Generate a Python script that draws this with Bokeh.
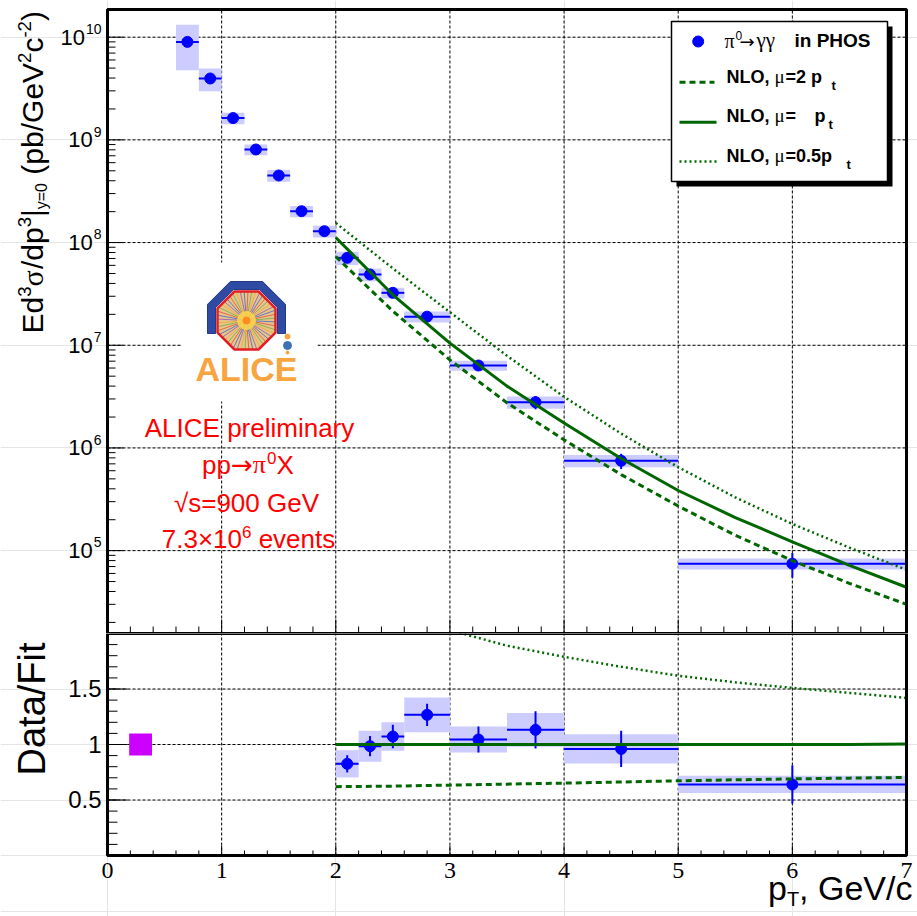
import math
from bokeh.plotting import figure
from bokeh.layouts import column
from bokeh.models import Range1d, Label
from bokeh.embed import file_html
from bokeh.resources import INLINE

# ---------------- measured pi0 spectrum ----------------
pt       = [0.7, 0.9, 1.1, 1.3, 1.5, 1.7, 1.9, 2.1, 2.3, 2.5, 2.8, 3.25, 3.75, 4.5, 6.0]
pt_lo    = [0.6, 0.8, 1.0, 1.2, 1.4, 1.6, 1.8, 2.0, 2.2, 2.4, 2.6, 3.0, 3.5, 4.0, 5.0]
pt_hi    = [0.8, 1.0, 1.2, 1.4, 1.6, 1.8, 2.0, 2.2, 2.4, 2.6, 3.0, 3.5, 4.0, 5.0, 7.0]
xsec     = [9.0e9, 3.96e9, 1.63e9, 8.06e8, 4.5e8, 2.02e8, 1.29e8, 7.1e7, 4.89e7,
            3.24e7, 1.9e7, 6.35e6, 2.79e6, 7.5e5, 7.46e4]
stat_rel = [0.02, 0.02, 0.02, 0.02, 0.02, 0.03, 0.03, 0.094, 0.093, 0.098, 0.079,
            0.113, 0.148, 0.17, 0.27]
syst_rel = [0.47, 0.25, 0.13, 0.12, 0.13, 0.125, 0.13, 0.149, 0.142, 0.12, 0.124,
            0.113, 0.135, 0.137, 0.121]

# ---------------- data / fit ratio ----------------
ratio_pt   = [2.1, 2.3, 2.5, 2.8, 3.25, 3.75, 4.5, 6.0]
ratio_lo   = [2.0, 2.2, 2.4, 2.6, 3.0, 3.5, 4.0, 5.0]
ratio_hi   = [2.2, 2.4, 2.6, 3.0, 3.5, 4.0, 5.0, 7.0]
ratio_val  = [0.826, 0.985, 1.072, 1.267, 1.045, 1.132, 0.96, 0.64]
ratio_stat = [0.094, 0.093, 0.098, 0.079, 0.113, 0.148, 0.17, 0.27]
ratio_syst = [0.149, 0.142, 0.12, 0.124, 0.113, 0.135, 0.137, 0.121]
norm_x     = [0.19, 0.39]
norm_y     = [0.9, 1.1]

# ---------------- NLO pQCD curves ----------------
nlo_pt   = [2.0, 2.5, 3.0, 3.5, 4.0, 4.5, 5.0, 5.5, 6.0, 6.5, 7.0]
nlo_mu1  = [1.12e8, 3.1e7, 1.05e7, 4.0e6, 1.75e6, 7.9e5, 3.85e5, 2.1e5, 1.22e5, 7.2e4, 4.4e4]
nlo_mu2  = [7.3e7, 2.15e7, 7.2e6, 2.75e6, 1.2e6, 5.5e5, 2.72e5, 1.41e5, 8.0e4, 4.8e4, 3.0e4]
nlo_mu05 = [1.55e8, 5.6e7, 2.1e7, 7.9e6, 3.15e6, 1.38e6, 6.5e5, 3.3e5, 1.82e5, 1.07e5, 6.5e4]

rat_mu1  = [1.0, 1.0, 1.0, 1.0, 1.0, 1.0, 1.0, 1.0, 1.0, 1.0, 1.005]
rat_mu2  = [0.62, 0.625, 0.634, 0.643, 0.652, 0.662, 0.673, 0.682, 0.69, 0.697, 0.703]
rat05_pt = [3.0, 3.5, 4.0, 4.5, 5.0, 5.5, 6.0, 6.5, 7.0]
rat_mu05 = [2.03, 1.89, 1.79, 1.70, 1.62, 1.56, 1.51, 1.465, 1.42]

# ---------------- axes ----------------
x_ticks  = [0, 1, 2, 3, 4, 5, 6, 7]
x_labels = ["0", "1", "2", "3", "4", "5", "6", "7"]
x_grid   = [1, 2, 3, 4, 5, 6]
x_minor  = [round(0.2 * i, 1) for i in range(36) if i % 5]
y_exp    = [5, 6, 7, 8, 9, 10]
y_exp_labels = ["5", "6", "7", "8", "9", "10"]
r_ticks  = [0.5, 1.0, 1.5]
r_labels = ["0.5", "1", "1.5"]
r_minor  = [round(0.1 * i, 1) for i in range(1, 20)]

# ---------------- page geometry ----------------
W, H = 917, 916
FL, FR = 107, 906          # plot area left / right (px)
TOP_T, TOP_B = 9, 633      # upper plot area top / bottom (px)
BOT_T, BOT_B = 633, 855    # lower plot area top / bottom (px)
X0, X1 = 0.0, 7.0
YT_LO, YT_HI = 1.56e4, 1.86e10
YB_LO, YB_HI = 0.0, 2.0
BASE_FIX = 0.37            # alphabetic-baseline correction, in em

SANS = "Liberation Sans"
SERIF = "Liberation Serif"
DEJA = "DejaVu Sans"
BLUE = "#0000ff"
BOX = "#ccccff"
GREEN = "#006600"
RED = "#ff0000"


def tx(px):
    return X0 + (px - FL) / (FR - FL) * (X1 - X0)


def ty(py):
    a, b = math.log10(YT_HI), math.log10(YT_LO)
    return 10 ** (a - (py - TOP_T) / (TOP_B - TOP_T) * (a - b))


def by(py):
    return YB_HI - (py - BOT_T) / (BOT_B - BOT_T) * (YB_HI - YB_LO)


def py_top(v):
    a, b = math.log10(YT_HI), math.log10(YT_LO)
    return TOP_T + (a - math.log10(v)) / (a - b) * (TOP_B - TOP_T)


def py_bot(v):
    return BOT_T + (YB_HI - v) / (YB_HI - YB_LO) * (BOT_B - BOT_T)


# approximate advance widths (em) for placing text pieces side by side
W_REG = {' ': .278, '(': .333, ')': .333, '/': .278, '.': .278, ',': .278, '=': .584,
         '-': .333, '|': .26, '√': .549, '×': .584, 'E': .667, 'G': .778, 'V': .667,
         'X': .667, 'A': .667, 'L': .556, 'I': .278, 'C': .722, 'T': .611, 'F': .611,
         'D': .722, 'a': .556, 'b': .556, 'c': .5, 'd': .556, 'e': .556, 'i': .222,
         'l': .222, 'm': .833, 'n': .556, 'p': .556, 'r': .333, 's': .5, 't': .278,
         'v': .5, 'y': .5}
W_SER = {'π': .55, 'γ': .45, 'μ': .55, 'σ': .58}
W_DEJA = {'→': .838}


def text_w(s, size, font):
    tot = 0.0
    for ch in s:
        if font == SERIF:
            tot += W_SER.get(ch, .5)
        elif font == DEJA:
            tot += W_DEJA.get(ch, .6)
        else:
            tot += W_REG.get(ch, .556 if ch.isdigit() else .55)
    return tot * size


def put(fig, cx, cy, px, py, text, size, font=SANS, bold=False, color="black",
        vertical=False, align="left"):
    """Text whose baseline passes through page pixel (px, py)."""
    if vertical:
        px -= BASE_FIX * size
    else:
        py -= BASE_FIX * size
    fig.add_layout(Label(x=cx(px), y=cy(py), text=text,
                         angle=math.pi / 2 if vertical else 0,
                         text_font=font, text_font_size=f"{size}px",
                         text_font_style="bold" if bold else "normal",
                         text_color=color, text_align=align,
                         text_baseline="alphabetic"))


def run(fig, cx, cy, start, base, pieces, vertical=False, align="left"):
    """Place a run of pieces (text, size, shift, font, color) one after another."""
    widths = [text_w(t, s, f) for (t, s, sh, f, c) in pieces]
    total = sum(widths)
    sgn = -1 if vertical else 1
    if align == "center":
        start -= sgn * total / 2
    elif align == "right":
        start -= sgn * total
    pos = start
    for (t, s, sh, f, c), w in zip(pieces, widths):
        lead = text_w(t[:len(t) - len(t.lstrip(' '))], s, f)
        p0 = pos + sgn * lead
        if vertical:
            put(fig, cx, cy, base + sh, p0, t.strip(), s, f, False, c, vertical=True)
        else:
            put(fig, cx, cy, p0, base + sh, t.strip(), s, f, False, c)
        pos += sgn * w


def panel(height, y_type, y_range):
    return figure(width=W, height=height, y_axis_type=y_type,
                  x_range=Range1d(tx(0), tx(W)), y_range=Range1d(*y_range),
                  min_border=0, x_axis_location=None, y_axis_location=None, title=None,
                  outline_line_color=None, toolbar_location=None, output_backend="svg")


# ======================= upper panel: spectrum =======================
top = panel(TOP_B, "log", (ty(TOP_B), ty(0)))

decades = [10.0 ** e for e in y_exp]
top.segment(x0=[X0] * len(decades), x1=[X1] * len(decades), y0=decades, y1=decades,
            line_color="black", line_width=1, line_dash="3 2")
top.segment(x0=x_grid, x1=x_grid, y0=[YT_LO] * len(x_grid), y1=[YT_HI] * len(x_grid),
            line_color="black", line_width=1, line_dash="3 2")

# white patch behind the experiment logo
top.quad(left=tx(181), right=tx(317), top=ty(262), bottom=ty(401),
         fill_color="white", line_color=None)

# systematic boxes, bin-width bars, statistical bars, markers
top.quad(left=pt_lo, right=pt_hi,
         top=[v * (1 + e) for v, e in zip(xsec, syst_rel)],
         bottom=[v * (1 - e) for v, e in zip(xsec, syst_rel)],
         fill_color=BOX, line_color=None)
top.segment(x0=pt_lo, x1=pt_hi, y0=xsec, y1=xsec, line_color=BLUE, line_width=2)
top.segment(x0=pt, x1=pt, y0=[v * (1 - e) for v, e in zip(xsec, stat_rel)],
            y1=[v * (1 + e) for v, e in zip(xsec, stat_rel)], line_color=BLUE, line_width=2)
top.scatter(pt, xsec, size=11, color=BLUE)

# NLO curves
top.line(nlo_pt, nlo_mu2, line_color=GREEN, line_width=3, line_dash="6 4")
top.line(nlo_pt, nlo_mu1, line_color=GREEN, line_width=3)
top.line(nlo_pt, nlo_mu05, line_color=GREEN, line_width=2.5, line_dash="2 3")

# frame, ticks and tick labels
top.quad(left=[X0], right=[X1], bottom=[YT_LO], top=[YT_HI], fill_color=None,
         line_color="black", line_width=3)
top.segment(x0=x_ticks, x1=x_ticks, y0=[YT_LO] * len(x_ticks),
            y1=[ty(TOP_B - 14)] * len(x_ticks), line_color="black", line_width=1)
top.segment(x0=x_minor, x1=x_minor, y0=[YT_LO] * len(x_minor),
            y1=[ty(TOP_B - 7)] * len(x_minor), line_color="black", line_width=1)
y_minor = [m * 10.0 ** e for e in range(4, 11) for m in range(2, 10)
           if YT_LO < m * 10.0 ** e < YT_HI]
top.segment(x0=[X0] * len(decades), x1=[tx(FL + 16)] * len(decades), y0=decades, y1=decades,
            line_color="black", line_width=1)
top.segment(x0=[X0] * len(y_minor), x1=[tx(FL + 8)] * len(y_minor), y0=y_minor, y1=y_minor,
            line_color="black", line_width=1)
for v, lab in zip(decades, y_exp_labels):
    yy = py_top(v)
    sup_w = text_w(lab, 14, SANS)
    put(top, tx, ty, 101 - sup_w, yy - 3, lab, 14)
    put(top, tx, ty, 100 - sup_w, yy + 8, "10", 22, align="right")

# ---- experiment logo ----
cx0, cy0 = 246, 320
s22 = math.sin(math.radians(22.5))
c22 = math.cos(math.radians(22.5))


def octagon(a, cx, cy):
    r = a / c22
    return [(cx + r * math.cos(math.radians(22.5 + 45 * k)),
             cy + r * math.sin(math.radians(22.5 + 45 * k))) for k in range(8)]


ao, ai = 39, 31
ro, ri = ao / c22, ai / c22
arch = [(cx0 - ao, 333), (cx0 - ao, cy0 - ro * s22), (cx0 - ro * s22, cy0 - ao),
        (cx0 + ro * s22, cy0 - ao), (cx0 + ao, cy0 - ro * s22), (cx0 + ao, 333),
        (cx0 + ai, 333), (cx0 + ai, cy0 - ri * s22), (cx0 + ri * s22, cy0 - ai),
        (cx0 - ri * s22, cy0 - ai), (cx0 - ai, cy0 - ri * s22), (cx0 - ai, 333)]
top.patch([tx(p[0]) for p in arch], [ty(p[1]) for p in arch],
          fill_color="#2f4aa3", line_color="#24398a", line_width=1)
octo = octagon(29, cx0, cy0)
top.patch([tx(p[0]) for p in octo], [ty(p[1]) for p in octo],
          fill_color="#e6c58a", line_color=None)
ray_cols = ["#4a62c8", "#e0503c", "#6fae45", "#f0a830", "#8a5ac0"]
rx0, rx1, ry0, ry1, rc = [], [], [], [], []
for k in range(48):
    phi = 2 * math.pi * k / 48 + 0.05
    d = 29 / math.cos(math.radians(((math.degrees(phi) + 22.5) % 45) - 22.5))
    rx0.append(tx(cx0)); ry0.append(ty(cy0))
    rx1.append(tx(cx0 + d * math.cos(phi))); ry1.append(ty(cy0 + d * math.sin(phi)))
    rc.append(ray_cols[k % len(ray_cols)])
top.segment(x0=rx0, y0=ry0, x1=rx1, y1=ry1, line_color=rc, line_width=1, line_alpha=0.8)
top.scatter([tx(cx0)], [ty(cy0)], size=18, color="#ffd84a", alpha=0.85)
top.scatter([tx(cx0)], [ty(cy0)], size=7, color="#ff8a1e")
top.patch([tx(p[0]) for p in octo], [ty(p[1]) for p in octo],
          fill_color=None, line_color="#e41e26", line_width=2.5)
top.scatter([tx(287)], [ty(336)], size=5, color="#f5a23a")
top.scatter([tx(287)], [ty(345)], size=8, color="#3f6fb5")
top.scatter([tx(287)], [ty(352)], size=3, color="#f5a23a")
put(top, tx, ty, 246, 381, "ALICE", 34, SANS, True, "#f7a541", align="center")

# ---- red annotation ----
F = 26
run(top, tx, ty, 249, 437, [("ALICE preliminary", F, 0, SANS, RED)], align="center")
run(top, tx, ty, 247.5, 474, [("pp", F, 0, SANS, RED), ("→", F, 0, DEJA, RED),
                              ("π", F, 0, SERIF, RED), ("0", 17, -10, SANS, RED),
                              ("X", F, 0, SANS, RED)], align="center")
run(top, tx, ty, 246, 512, [("√s=900 GeV", F, 0, SANS, RED)], align="center")
run(top, tx, ty, 248, 548, [("7.3×10", F, 0, SANS, RED), ("6", 17, -10, SANS, RED),
                            (" events", F, 0, SANS, RED)], align="center")

# ---- legend ----
top.quad(left=tx(676), right=tx(892), top=ty(26), bottom=ty(186),
         fill_color="black", line_color=None)
top.quad(left=tx(671), right=tx(887), top=ty(21), bottom=ty(181),
         fill_color="white", line_color="black", line_width=1.5)
top.scatter([tx(697.7)], [ty(41)], size=11, color=BLUE)
top.line([tx(679), tx(714)], [ty(81.7), ty(81.7)], line_color=GREEN, line_width=3, line_dash="6 4")
top.line([tx(679), tx(716)], [ty(121.7), ty(121.7)], line_color=GREEN, line_width=3)
top.line([tx(679), tx(716)], [ty(161), ty(161)], line_color=GREEN, line_width=2.5, line_dash="2 3")
put(top, tx, ty, 724, 47.5, "π", 20, SERIF)
put(top, tx, ty, 735, 39.5, "0", 12, SANS)
put(top, tx, ty, 739, 47.5, "→", 18, DEJA)
put(top, tx, ty, 756, 47.5, "γγ", 21, SERIF)
put(top, tx, ty, 794, 47.5, "in PHOS", 19, SANS, True)
for base in (83.3, 122.3, 161.7):
    put(top, tx, ty, 726, base, "NLO,", 18, SANS, True)
    put(top, tx, ty, 774, base, "μ", 19, SERIF)
put(top, tx, ty, 785, 83.3, "=2 p", 18, SANS, True)
put(top, tx, ty, 831, 90.3, "t", 13, SANS, True)
put(top, tx, ty, 785, 122.3, "=", 18, SANS, True)
put(top, tx, ty, 814, 122.3, "p", 18, SANS, True)
put(top, tx, ty, 828, 129.3, "t", 13, SANS, True)
put(top, tx, ty, 785, 161.7, "=0.5p", 18, SANS, True)
put(top, tx, ty, 846, 168.7, "t", 13, SANS, True)

# ---- y title ----
TF, SUP = 30, 18.6
run(top, tx, ty, 333, 43,
    [("Ed", TF, 0, SANS, "black"), ("3", SUP, -12, SANS, "black"),
     ("σ", TF, 0, SERIF, "black"), ("/dp", TF, 0, SANS, "black"),
     ("3", SUP, -12, SANS, "black"), ("|", TF, 0, SANS, "black"),
     ("y=0", 16, 4, SANS, "black"),
     (" (pb/GeV", TF, 0, SANS, "black"), ("2", SUP, -12, SANS, "black"),
     ("c", TF, 0, SANS, "black"), ("-2", SUP, -12, SANS, "black"),
     (")", TF, 0, SANS, "black")], vertical=True)

# ======================= lower panel: data / fit =======================
bot = panel(H - BOT_T, "linear", (by(H), by(BOT_T)))

bot.segment(x0=[X0] * len(r_ticks), x1=[X1] * len(r_ticks), y0=r_ticks, y1=r_ticks,
            line_color="black", line_width=1, line_dash="3 2")
bot.segment(x0=x_grid, x1=x_grid, y0=[YB_LO] * len(x_grid), y1=[YB_HI] * len(x_grid),
            line_color="black", line_width=1, line_dash="3 2")

bot.quad(left=[norm_x[0]], right=[norm_x[1]], bottom=[norm_y[0]], top=[norm_y[1]],
         fill_color="#cc00ff", line_color=None)
bot.quad(left=ratio_lo, right=ratio_hi,
         top=[v * (1 + e) for v, e in zip(ratio_val, ratio_syst)],
         bottom=[v * (1 - e) for v, e in zip(ratio_val, ratio_syst)],
         fill_color=BOX, line_color=None)
bot.segment(x0=ratio_lo, x1=ratio_hi, y0=ratio_val, y1=ratio_val, line_color=BLUE, line_width=2)
bot.segment(x0=ratio_pt, x1=ratio_pt, y0=[v * (1 - e) for v, e in zip(ratio_val, ratio_stat)],
            y1=[v * (1 + e) for v, e in zip(ratio_val, ratio_stat)], line_color=BLUE, line_width=2)
bot.scatter(ratio_pt, ratio_val, size=11, color=BLUE)
bot.line(nlo_pt, rat_mu2, line_color=GREEN, line_width=3, line_dash="6 4")
bot.line(nlo_pt, rat_mu1, line_color=GREEN, line_width=3)
bot.line(rat05_pt, rat_mu05, line_color=GREEN, line_width=2.5, line_dash="2 3")

# the ratio curve above the top edge is hidden by a white band
bot.quad(left=[tx(0)], right=[tx(W)], bottom=[YB_HI], top=[by(BOT_T - 5)],
         fill_color="white", line_color=None)

bot.quad(left=[X0], right=[X1], bottom=[YB_LO], top=[YB_HI], fill_color=None,
         line_color="black", line_width=3)
bot.segment(x0=x_ticks, x1=x_ticks, y0=[YB_LO] * len(x_ticks),
            y1=[by(BOT_B - 10)] * len(x_ticks), line_color="black", line_width=1)
bot.segment(x0=x_minor, x1=x_minor, y0=[YB_LO] * len(x_minor),
            y1=[by(BOT_B - 5)] * len(x_minor), line_color="black", line_width=1)
bot.segment(x0=[X0] * len(r_ticks), x1=[tx(FL + 20)] * len(r_ticks), y0=r_ticks, y1=r_ticks,
            line_color="black", line_width=1)
bot.segment(x0=[X0] * len(r_minor), x1=[tx(FL + 10)] * len(r_minor), y0=r_minor, y1=r_minor,
            line_color="black", line_width=1)
for v, lab in zip(r_ticks, r_labels):
    put(bot, tx, by, 101, py_bot(v) + 8.5, lab, 24, align="right")

bot.text(x=x_ticks, y=[by(879 - BASE_FIX * 24)] * len(x_ticks), text=x_labels,
         text_font="Liberation Sans", text_font_size="24px", text_align="center",
         text_baseline="alphabetic", text_color="black")

run(bot, tx, by, 775, 46, [("Data/Fit", 38, 0, SANS, "black")], vertical=True)
run(bot, tx, by, 912, 900, [("p", 34, 0, SANS, "black"), ("T", 20, 6, SANS, "black"),
                            (", GeV/c", 34, 0, SANS, "black")], align="right")

page = column(top, bot)
open("out.html", "w").write(file_html(page, INLINE))
